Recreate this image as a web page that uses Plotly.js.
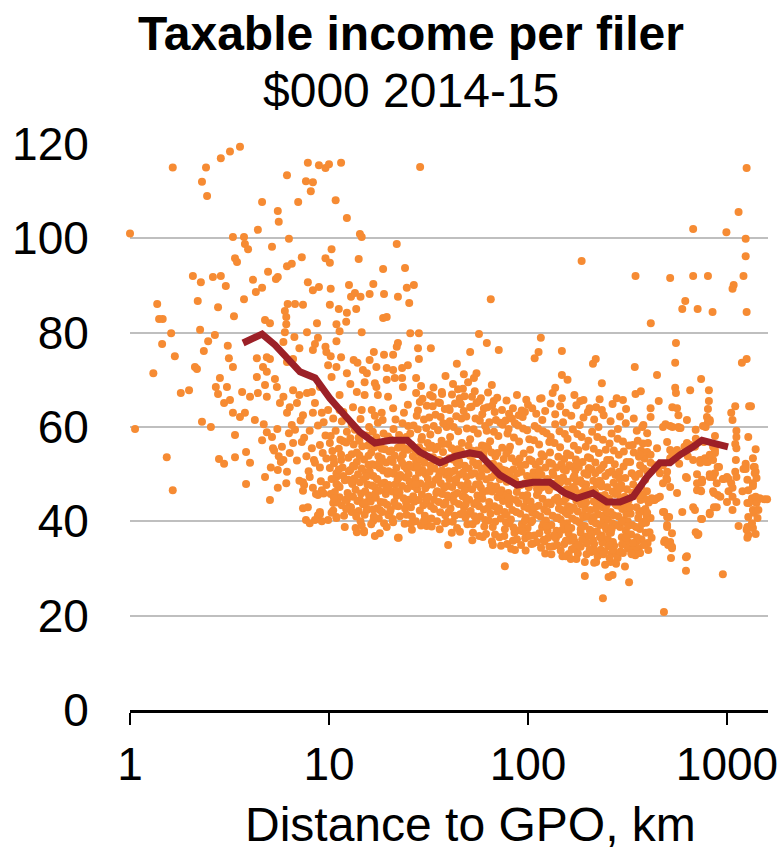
<!DOCTYPE html>
<html>
<head>
<meta charset="utf-8">
<script src="https://cdn.plot.ly/plotly-3.0.1.min.js"></script>
<style>html,body{margin:0;padding:0;background:#fff;}#chart{width:784px;height:852px;}</style>
</head>
<body>
<div id="chart"></div>
<script>
// Distance to GPO (km), taxable income per filer ($000)
const pointsInner = [
[1.0,101],[1.64,115],[2.30,112],[2.41,115],[2.44,109],[2.86,117],[3.18,118.4],[3.57,119.4],[3.29,100.3],[3.74,100.3],[3.78,98.8],[3.92,97.7],[4.39,101.8],[4.61,107.7],[3.37,95.8],[3.45,95.0],[2.07,92.0],[2.27,90.7],[2.61,91.8],[2.86,92.0],[3.03,89.9],[2.19,86.7],[2.77,85.4],[3.74,87.1],[1.37,86.1],[1.40,82.9],[1.46,82.9],[1.61,79.9],[1.45,77.6],[1.68,75.0],[2.25,80.6],[2.47,78.2],[2.35,76.1],[2.67,79.5],[3.33,83.5],[3.10,77.2],[3.14,74.6],[3.29,72.7],[2.12,72.7],[2.17,72.3],[1.31,71.4],[1.80,67.2],[1.98,67.8],[2.83,70.4],[2.70,68.5],[3.07,68.5],[2.77,67.0],[3.66,67.4],[4.01,66.4],[2.97,65.1],[3.18,65.7],[3.29,63.0],[3.78,63.0],[4.39,67.2],[4.34,70.6],[4.77,68.9],[4.87,66.4],[5.47,68.5],[5.35,70.2],[4.34,74.6],[4.87,74.8],[5.05,74.4],[4.66,72.7],[4.87,71.7],[4.77,82.7],[5.05,82.0],[4.15,91.2],[4.29,88.6],[4.61,89.5],[4.94,92.9],[5.41,91.4],[5.53,91.8],[5.17,98.2],[6.15,113.4],[7.0,107.7],[5.53,105.8],[5.59,103.5],[6.29,99.9],[7.3,96.0],[6.15,94.1],[6.5,94.6],[7.83,116.0],[8.9,115.5],[9.6,114.9],[7.66,112.1],[8.3,111.9],[8.1,110.0],[9.6,95.8],[7.83,90.7],[8.3,89.0],[8.9,89.7],[7.4,85.9],[6.75,86.1],[6.2,86.1],[6.0,84.6],[8.7,82.0],[6.1,83.3],[6.1,81.8],[7.75,80.1],[6.0,80.1],[6.7,79.1],[8.8,78.9],[8.5,77.6],[5.9,78.0],[7.1,76.7],[8.3,76.3],[9.6,77.0],[9.7,75.9],[6.6,74.4],[6.15,73.8],[9.9,73.1],[6.6,67.8],[7.1,66.8],[7.75,67.2],[8.2,67.4],[9.0,68.5],[5.9,66.4],[5.67,65.1],[6.35,64.2],[6.9,65.1],[8.5,65.1],[9.2,63.0],[9.9,63.6],[6.15,63.0],[7.4,62.5],[8.3,63.0],
[1.06,59.6],[1.53,53.6],[1.64,46.6],[2.30,61.1],[2.55,60.0],[2.80,53.2],[2.97,52.2],[3.37,58.3],[3.37,53.6],[3.83,54.7],[4.01,52.4],[3.83,47.9],[4.77,49.4],[5.05,44.5],[5.53,47.1],[3.57,62.1],[4.24,61.5],[4.61,57.2],[4.87,58.9],[5.17,57.9],[5.23,55.5],[5.8,55.8],[5.59,53.8],[5.73,52.6],[5.53,50.9],[6.15,50.5],[6.1,48.1],[6.35,54.5],[6.29,58.7],[6.75,59.4],[7.3,56.8],[7.5,57.7],[7.4,48.3],[7.5,47.7],[8.0,49.4],[8.3,47.1],[8.8,45.6],[9.2,46.6],[7.4,42.8],[7.83,43.0],[9.0,42.0],[8.8,41.3],[7.66,40.3],[8.0,39.6],[9.9,40.3],[8.2,55.5],[9.0,56.2],[9.3,54.5],[8.5,52.4],[9.7,47.7],
[5.9,53.0],[7.1,48.6],[7.4,46.5],[7.9,50.6],[8.4,53.0],[9.0,51.4],[9.1,48.5],[8.6,45.8],[9.4,45.9],[9.0,41.5],[8.5,40.3],[9.2,40.0],[6.9,52.9],[7.7,53.8],[5.3,55.0],[5.1,51.4],[6.6,56.6],[9.6,58.2],[9.7,53.3],[8.0,59.2],[7.2,61.4],[6.5,60.4],[5.5,59.6],[4.7,60.6],[9.4,61.0],[8.8,60.3]
];

const pointsMiddle = [
[10.0,115.7],[11.5,116.0],[10.8,108.1],[12.3,104.3],[14.3,100.9],[14.6,100.3],[10.3,97.7],[10.1,94.8],[14.1,95.6],[21.9,98.8],[18.7,93.5],[10.2,89.3],[12.6,90.1],[16.7,90.3],[12.9,87.6],[13.5,88.4],[14.4,87.6],[16.0,88.2],[18.9,88.2],[22.2,87.6],[10.1,85.9],[11.2,85.0],[13.7,85.0],[12.3,84.2],[18.7,83.1],[19.5,83.3],[10.9,81.8],[12.2,82.3],[11.3,80.3],[14.6,80.1],[10.9,78.2],[10.2,75.0],[11.5,74.8],[13.3,74.2],[13.9,73.6],[16.8,75.9],[18.9,75.3],[21.0,75.3],[21.9,77.0],[22.2,77.8],[10.9,72.7],[14.8,72.1],[16.0,74.2],[15.5,71.4],[17.3,72.7],[19.5,72.5],[21.0,72.1],[12.3,71.4],[10.3,70.6],[12.8,69.1],[15.1,69.5],[17.0,69.3],[17.3,68.5],[19.5,70.0],[21.4,70.4],[13.8,67.4],[15.1,66.8],[11.3,66.8],[17.6,66.8],[19.8,66.4],[11.8,63.2],[13.2,64.2],[14.6,63.6],[16.4,63.6],[18.4,63.0],[21.0,64.0],
[10.1,56.6],[10.5,53.4],[10.1,51.3],[10.9,49.4],[11.3,47.3],[12.5,48.8],[13.2,45.2],[14.3,44.5],[15.5,42.4],[18.0,42.4],[20.2,41.8],[10.9,40.7],[10.5,43.9],[12.3,44.5],[13.0,42.0],[13.8,37.7],[15.0,37.7],[16.7,40.1],[17.0,36.9],[18.0,37.5],[22.2,36.5],
[28.7,115.1],[24.1,93.7],[24.6,89.5],[26.7,90.1],[25.3,86.3],[25.6,79.9],[28.3,79.9],[56.7,79.7],[65.0,87.1],[62.1,77.8],[71.3,76.3],[32.5,76.7],[28.0,76.7],[28.3,74.4],[51.2,75.9],[43.9,73.4],[47.6,71.2],[55.1,71.4],[53.5,70.4],[42.0,69.1],[47.1,68.1],[36.9,67.4],[33.2,66.4],[65.8,68.9],[67.3,65.5],[52.3,66.4],[58.0,66.1],[27.4,70.4],[29.0,68.7],[27.4,67.2],[32.2,66.8],[23.3,70.4],[23.5,68.5],[24.9,73.1],[23.3,72.5],[24.9,64.7],[28.6,65.3],[36.1,65.1],[40.4,63.6],[45.4,66.1],[51.2,64.2],[55.1,65.1],[62.6,64.2],[68.0,63.2],[80.3,62.8],[89.9,62.5],[96.5,63.2],
[76.5,30.5],[86,33.9],[39.7,35.0],[59.3,36.7],[22.4,36.5],[26.1,38.2],[31.0,39.0],
[29.5,66.0],[31.0,64.5],[33.5,68.4],[35.5,65.2],[37.0,67.0],[38.5,70.8],[40.0,64.0],[41.5,66.9],[43.0,65.0],[44.5,68.0],[46.0,64.8],[48.0,66.5],[50.0,69.5],[52.0,64.3],[54.0,67.6],[57.0,65.5],[60.0,63.9],[63.0,67.3],[66.0,64.5],[70.0,66.2],[74.0,63.6],[78.0,65.6],[84.0,64.0],[88.0,66.8],[93.0,63.5],[98.0,65.8]
];

const pointsMiddleCore = [
[10.2,58.1],[10.4,54.9],[10.6,52.3],[10.9,50.2],[11.1,47.6],[11.3,45.1],[11.6,43.4],[11.9,41.2],[12.2,56.7],[12.5,53.5],[10.3,49.0],[10.7,46.2],[11.0,44.0],[11.4,57.3],[11.7,51.4],[12.0,48.7],[12.4,46.0],[12.6,43.1],[10.5,42.3],[10.8,59.2],[11.2,55.4],[11.5,53.0],[11.8,49.6],[12.1,44.6],[12.3,59.0],[10.2,45.8],[10.9,40.9],[11.6,61.2],[12.6,50.6],[11.3,63.6],[10.5,61.8],[12.0,38.8],
[12.8,57.6],[13.0,54.2],[13.2,51.8],[13.4,49.1],[13.6,46.7],[13.9,44.3],[14.1,42.2],[14.4,40.0],[14.7,55.9],[15.0,53.1],[15.3,50.4],[15.6,47.8],[15.9,45.5],[12.9,43.0],[13.1,47.9],[13.3,56.3],[13.5,59.4],[13.8,52.6],[14.0,50.0],[14.3,48.3],[14.5,45.9],[14.8,43.6],[15.1,41.4],[15.4,58.2],[15.7,56.1],[15.8,52.0],[13.7,41.0],[14.2,54.0],[14.6,51.2],[14.9,48.9],[15.2,46.4],[15.5,44.1],[13.0,60.5],[14.4,61.7],[15.9,60.0],[13.6,38.6],[15.0,38.0],[14.1,57.8],[12.8,50.9],[15.6,42.6],
[16.1,57.2],[16.3,54.6],[16.5,52.1],[16.7,49.6],[17.0,47.3],[17.2,45.0],[17.5,42.8],[17.8,40.6],[18.1,56.0],[18.4,53.4],[18.7,50.8],[19.0,48.2],[19.3,45.8],[19.6,43.5],[19.9,41.3],[16.2,44.2],[16.4,47.6],[16.6,59.0],[16.9,55.7],[17.1,51.9],[17.4,49.0],[17.7,53.8],[17.9,46.5],[18.2,44.1],[18.5,42.0],[18.8,58.6],[19.1,55.3],[19.4,52.5],[19.7,50.1],[20.0,47.7],[16.8,41.0],[17.3,57.8],[17.6,60.9],[18.3,48.0],[18.9,39.6],[19.5,38.8],[20.1,54.8],[16.0,50.6],[17.0,62.4],[18.6,61.5],[19.8,58.0],[18.0,51.3],
[20.3,57.4],[20.6,55.0],[20.9,52.6],[21.2,50.1],[21.5,47.8],[21.9,45.4],[22.3,43.2],[22.7,41.1],[23.1,56.5],[23.5,54.1],[23.9,51.7],[24.3,49.3],[24.7,46.9],[25.1,44.6],[20.4,42.4],[20.8,46.3],[21.1,59.6],[21.4,53.9],[21.8,51.3],[22.1,48.8],[22.5,58.3],[22.9,53.2],[23.3,47.5],[23.7,44.9],[24.1,42.7],[24.5,57.9],[24.9,55.2],[25.3,52.0],[20.5,50.3],[21.0,39.8],[21.6,61.6],[22.2,55.6],[22.8,49.8],[23.4,60.8],[24.0,39.5],[24.6,51.1],[25.4,48.4],[25.0,60.2],[23.8,63.0],[21.3,44.1],[22.6,46.1],[24.4,44.0],
[25.6,58.6],[26.0,56.2],[26.4,53.8],[26.8,51.4],[27.2,49.1],[27.7,46.8],[28.1,44.5],[28.6,42.3],[29.1,57.3],[29.6,54.9],[30.1,52.4],[30.6,50.0],[31.1,47.6],[31.6,45.2],[25.8,43.0],[26.2,47.5],[26.6,60.3],[27.0,55.2],[27.4,52.8],[27.9,59.5],[28.3,50.3],[28.8,48.0],[29.3,45.7],[29.8,43.4],[30.3,41.2],[30.8,59.8],[31.3,56.6],[31.8,53.6],[26.1,41.0],[26.9,44.2],[27.6,62.4],[28.4,55.7],[28.9,53.1],[29.5,50.9],[30.0,61.6],[30.5,47.0],[31.0,43.9],[31.5,40.4],[32.0,50.5],[25.7,51.6],[27.3,40.0],[28.0,63.5],[29.0,39.1],[31.9,62.0],
[32.3,58.4],[32.8,56.0],[33.3,53.6],[33.9,51.2],[34.4,48.8],[35.0,46.4],[35.6,44.1],[36.2,41.9],[36.8,57.1],[37.4,54.7],[38.0,52.3],[38.7,49.9],[39.4,47.5],[40.1,45.1],[32.5,43.2],[33.0,47.8],[33.6,60.2],[34.1,55.3],[34.7,52.9],[35.3,59.3],[35.9,50.4],[36.5,48.1],[37.1,45.8],[37.7,43.5],[38.4,41.3],[39.0,60.0],[39.7,56.4],[40.3,53.4],[32.7,40.6],[33.7,44.6],[34.3,62.6],[35.2,55.8],[35.8,53.0],[36.4,62.1],[37.0,50.8],[37.9,47.1],[38.5,44.0],[39.2,39.9],[39.9,50.6],[32.4,51.9],[34.9,40.0],[36.0,38.3],[38.2,63.8],[40.0,42.0],[33.2,64.4],[37.5,60.8],
[40.6,57.9],[41.3,55.5],[42.0,53.1],[42.7,50.7],[43.4,48.3],[44.2,46.0],[44.9,43.7],[45.7,41.5],[46.5,56.6],[47.3,54.2],[48.1,51.8],[48.9,49.4],[49.8,47.0],[50.6,44.6],[40.8,42.7],[41.6,47.3],[42.3,60.0],[43.0,54.8],[43.8,52.4],[44.6,59.1],[45.3,49.9],[46.1,47.6],[46.9,45.3],[47.7,43.0],[48.5,40.8],[49.3,59.7],[50.2,56.0],[41.0,50.4],[41.9,39.9],[42.5,44.2],[43.6,62.3],[44.4,55.3],[45.1,52.7],[46.3,61.8],[47.1,50.3],[48.0,46.6],[48.7,43.7],[49.6,39.4],[50.4,51.2],[42.9,41.2],[45.5,37.8],[47.5,63.4],[49.0,62.2],[40.5,61.2],[44.0,38.6],[50.8,41.6],
[51.2,57.4],[52.1,55.0],[53.0,52.6],[53.9,50.2],[54.8,47.8],[55.7,45.5],[56.7,43.2],[57.7,41.0],[58.7,56.1],[59.7,53.7],[60.7,51.3],[61.7,48.9],[62.8,46.5],[63.8,44.1],[51.5,42.2],[52.4,46.8],[53.3,59.5],[54.2,54.3],[55.1,51.9],[56.0,58.6],[57.0,49.4],[58.0,47.1],[59.0,44.8],[60.0,42.5],[61.0,40.3],[62.0,59.2],[63.0,55.5],[51.8,49.9],[52.7,39.4],[53.6,43.7],[54.5,61.8],[55.4,55.0],[56.3,52.2],[57.3,61.3],[58.3,49.8],[59.3,46.1],[60.3,38.9],[61.3,55.9],[62.3,51.0],[63.5,40.2],[52.9,37.6],[56.9,36.9],[58.9,62.7],[60.9,60.2],[63.9,61.0],[55.0,40.1],
[64.5,57.0],[65.6,54.6],[66.8,52.2],[68.0,49.8],[69.2,47.4],[70.4,45.1],[71.6,42.8],[72.9,40.6],[74.2,55.6],[75.5,53.2],[76.8,50.8],[78.2,48.4],[79.6,46.0],[80.4,43.6],[64.8,41.6],[66.1,46.3],[67.4,59.0],[68.6,53.8],[69.8,51.4],[71.0,58.1],[72.3,48.9],[73.6,46.6],[74.9,44.3],[76.2,42.0],[77.5,39.8],[78.9,58.6],[80.0,55.0],[65.2,49.3],[66.5,38.8],[67.8,43.2],[69.0,61.5],[70.2,54.5],[71.3,51.7],[72.6,60.9],[73.9,49.2],[75.2,45.6],[76.5,38.3],[77.8,54.3],[79.2,50.5],[80.6,39.6],[68.3,37.2],[71.9,36.6],[74.6,60.5],[77.2,61.4],[79.9,59.6],[65.9,35.7],[73.2,34.8],[78.6,35.2],
[81.2,55.8],[82.8,53.4],[84.5,51.0],[86.2,48.6],[87.9,46.2],[89.6,43.9],[91.4,41.6],[93.2,39.4],[95.1,54.4],[97.0,52.0],[98.9,49.6],[100.9,47.2],[81.6,44.8],[83.3,42.4],[85.0,57.8],[86.7,52.6],[88.4,50.2],[90.2,56.9],[92.0,47.7],[93.8,45.4],[95.7,43.1],[97.6,40.8],[99.5,38.6],[101.5,57.4],[82.1,40.4],[83.8,49.1],[85.5,37.6],[87.3,42.0],[89.1,60.3],[90.8,53.3],[92.6,50.5],[94.5,59.7],[96.3,48.0],[98.2,44.4],[100.1,37.1],[101.8,53.1],[84.0,35.9],[88.0,36.2],[92.3,35.0],[96.8,36.4],[100.5,42.7],[86.0,60.8],[94.0,62.1],[99.0,59.3],[81.0,50.0],[90.5,38.1],[97.3,33.8],[83.0,61.8]
];

const pointsMiddleFill = [
[10.3,41.8],[10.6,44.9],[10.9,47.9],[11.2,51.0],[11.5,54.1],[11.8,57.0],[12.2,42.6],[12.6,45.4],
[13.0,48.4],[13.4,51.6],[13.8,54.6],[14.2,57.1],[14.6,39.1],[15.0,43.8],[15.4,49.5],[15.8,53.9],
[16.3,39.4],[16.7,42.5],[17.1,45.9],[17.5,48.9],[17.9,52.4],[18.4,55.4],[18.9,44.0],[19.4,47.0],[19.9,50.6],[20.4,53.1],
[20.9,40.5],[21.5,43.3],[22.1,46.4],[22.7,49.4],[23.3,52.4],[23.9,55.5],[24.5,41.4],[25.1,50.0],
[25.8,39.5],[26.5,45.3],[27.2,47.9],[27.9,51.7],[28.6,54.4],[29.3,57.9],[30.0,40.1],[30.7,44.6],[31.4,49.0],[32.0,55.6],
[32.8,38.9],[33.7,42.6],[34.6,46.0],[35.5,49.4],[36.4,52.8],[37.3,56.4],[38.3,39.6],[39.3,45.5],[40.3,49.0],
[41.4,37.6],[42.5,45.6],[43.6,49.0],[44.8,51.9],[46.0,54.9],[47.2,41.8],[48.5,45.0],[49.8,48.0],[51.1,53.9],
[52.5,36.0],[53.9,41.1],[55.3,44.1],[56.8,47.9],[58.3,51.1],[59.9,54.6],[61.5,37.3],[63.1,42.9],[64.8,47.6],
[66.6,35.0],[68.4,39.9],[70.2,42.1],[72.1,46.2],[74.0,51.0],[76.0,36.9],[78.0,41.4],[80.1,45.0],
[82.3,34.2],[84.5,38.7],[86.8,44.5],[89.1,47.4],[91.5,51.8],[94.0,37.9],[96.5,40.2],[99.1,45.6]
];

const pointsOuterCore = [
[102.5,55.2],[104.5,52.8],[106.6,50.4],[108.7,48.0],[110.9,45.6],[113.1,43.3],[115.4,41.0],[117.7,38.8],[120.1,53.8],[122.5,51.4],[124.9,49.0],[127.4,46.6],[103.0,44.2],[105.1,41.8],[107.2,57.2],[109.3,52.0],[111.5,49.6],[113.7,56.3],[116.0,47.1],[118.3,44.8],[120.7,42.5],[123.1,40.2],[125.5,38.0],[127.9,56.8],[103.6,39.8],[105.7,48.5],[107.8,37.0],[110.0,41.4],[112.2,59.7],[114.4,52.7],[116.7,49.9],[119.0,59.1],[121.4,47.4],[123.8,43.8],[126.2,36.5],[128.0,52.5],[106.0,35.3],[111.0,35.6],[116.3,34.4],[121.0,35.8],[125.0,42.1],[108.0,60.2],[118.0,61.5],[124.0,58.7],[104.0,49.4],[114.0,37.5],[122.0,33.2],[112.8,46.4],[119.5,39.5],[126.8,44.0],
[129,54.6],[132,52.2],[134,49.8],[137,47.4],[140,45.0],[143,42.7],[146,40.4],[149,38.2],[152,53.2],[155,50.8],[158,48.4],[161,46.0],[130,43.6],[133,41.2],[136,56.6],[139,51.4],[142,49.0],[145,55.7],[148,46.5],[151,44.2],[154,41.9],[157,39.6],[160,37.4],[131,39.2],[135,47.9],[138,36.4],[141,40.8],[144,59.1],[147,52.1],[150,49.3],[153,58.5],[156,46.8],[159,43.2],[162,35.9],[134,34.7],[140,35.0],[146,33.8],[152,35.2],[158,41.5],[136,44.6],[143,37.2],[149,32.6],[155,44.9],[161,51.9],[130,57.9],[137,60.6],[150,61.0],[158,57.5],[133,50.4],[139,38.0],[145,48.2],[151,39.4],[157,54.4],[160,33.1],[142,53.7],[148,42.4],
[163,54.0],[166,51.6],[169,49.2],[172,46.8],[175,44.4],[178,42.1],[181,39.8],[184,37.6],[188,52.6],[192,50.2],[196,47.8],[200,45.4],[164,43.0],[167,40.6],[170,56.0],[173,50.8],[176,48.4],[179,55.1],[182,45.9],[185,43.6],[189,41.3],[193,39.0],[197,36.8],[201,57.1],[165,38.6],[168,47.3],[171,35.8],[174,40.2],[177,58.5],[180,51.5],[183,48.7],[186,57.9],[190,46.2],[194,42.6],[198,35.3],[202,51.3],[166,34.1],[172,34.4],[178,33.2],[184,34.6],[190,40.9],[196,44.0],[169,36.6],[175,32.0],[181,44.3],[187,36.1],[193,31.4],[199,41.0],[204,38.2],[168,59.5],[182,60.4],[195,55.8],[174,53.1],[188,48.0],[200,53.6],[170,42.9],[186,39.1],[197,33.0],
[205,53.4],[209,51.0],[213,48.6],[217,46.2],[221,43.8],[225,41.5],[230,39.2],[235,37.0],[240,52.0],[245,49.6],[250,47.2],[255,44.8],[206,42.4],[210,40.0],[214,55.4],[218,50.2],[222,47.8],[227,54.5],[232,45.3],[237,43.0],[242,40.7],[247,38.4],[252,36.2],[257,56.5],[207,38.0],[211,46.7],[215,35.2],[219,39.6],[223,57.9],[228,50.9],[233,48.1],[238,57.3],[243,45.6],[248,42.0],[253,34.7],[208,33.5],[216,33.8],[224,32.6],[232,34.0],[240,40.3],[248,43.4],[212,36.0],[220,31.4],[228,43.7],[236,35.5],[244,30.8],[252,40.4],[256,37.6],[210,59.0],[226,60.0],[246,55.2],[218,52.5],[234,47.4],[250,53.0],[214,44.2],[230,36.6],[242,33.6],[254,50.3],[222,37.9],[238,41.2],
[259,53.0],[264,50.6],[269,48.2],[274,45.8],[279,43.4],[284,41.1],[290,38.8],[296,36.6],[302,51.6],[308,49.2],[314,46.8],[320,44.4],[260,42.0],[265,39.6],[270,55.0],[275,49.8],[280,47.4],[286,54.1],[292,44.9],[298,42.6],[304,40.3],[310,38.0],[316,35.8],[322,56.1],[261,37.6],[266,46.3],[271,34.8],[276,39.2],[282,57.5],[288,50.5],[294,47.7],[300,56.9],[306,45.2],[312,41.6],[318,34.3],[262,33.1],[272,33.4],[282,32.2],[292,33.6],[302,39.9],[312,43.0],[267,35.6],[277,31.0],[287,43.3],[297,35.1],[307,30.4],[317,40.0],[263,58.6],[283,59.6],[303,54.8],[273,52.1],[293,47.0],[313,52.6],[321,37.2],
[326,52.6],[332,50.2],[338,47.8],[344,45.4],[351,43.0],[358,40.7],[365,38.4],[372,36.2],[380,51.2],[388,48.8],[396,46.4],[404,44.0],[328,41.6],[334,39.2],[340,54.6],[347,49.4],[354,47.0],[361,53.7],[368,44.5],[375,42.2],[383,39.9],[391,37.6],[399,35.4],[330,37.2],[336,45.9],[342,34.4],[349,38.8],[356,57.1],[363,50.1],[370,47.3],[378,56.5],[386,44.8],[394,41.2],[402,33.9],[332,33.0],[346,32.8],[360,34.2],[374,39.5],[389,42.6],[336,56.2],[352,59.2],[370,55.0],[385,53.3],[398,50.6]
];

const pointsOuterFill = [
[102,36.9],[105,40.1],[108,43.0],[111,46.9],[114,50.9],[117,54.2],[120,36.1],[124,39.0],[127,48.1],
[131,33.0],[135,37.0],[139,40.7],[143,44.1],[147,48.8],[151,51.0],[155,35.9],[159,38.6],[163,42.3],
[167,45.4],[171,49.6],[175,52.0],[179,35.0],[184,38.3],[189,43.9],[194,46.9],[199,49.9],[204,34.0],
[209,37.3],[214,40.9],[219,42.6],[224,45.4],[229,48.6],[234,51.3],[239,33.0],[245,38.9],[251,41.9],
[257,35.0],[263,38.3],[269,41.3],[275,43.7],[282,46.1],[289,49.1],[296,40.0],[303,43.8],[310,36.5],
[318,39.0],[326,43.0],[335,46.0],[344,49.7],[353,36.6],[362,41.8],[372,45.7],[382,35.0],[392,39.7]
];

const pointsOuter = [
[100,64.7],[116,78.9],[113,75.9],[108,74.6],[148,76.1],[186,95.2],[212,73.4],[219,74.4],[148,71.0],[158,70.0],[137,68.3],[133,67.2],[148,66.1],[117,66.1],[171,66.8],[183,65.5],[190,65.7],[235,69.3],[229,65.9],[204,64.0],[220,64.2],[235,63.6],[266,64.9],[279,66.1],[300,65.7],[311,63.8],[344,72.7],[347,67.0],[369,67.6],[414,82.0],[445,71.0],[454,65.5],[347,92.0],[518,91.6],[554,77.8],[549,73.6],[549,68.3],[554,67.2],[653,67.8],[741,70.2],[811,67.8],[811,65.5],[802,63.8],[596,85.0],[617,86.7],[712,85.0],[846,84.4],[676,102.0],[676,92.0],[802,92.0],[993,101.3],[1143,105.6],[1241,99.9],[1241,96.2],[1255,114.9],[1210,92.0],[1080,90.1],[1066,89.3],[1255,84.4],[1255,74.4],[1188,73.6],[1320,64.4],[1100,64.4],[1050,63.0],[570,62.5],[531,64.2],
[413,64.0],[413,62.1],[1292,64.4],[793,62.1],[802,61.1],[491,60.6],[518,60.2],[570,60.0],[584,59.8],[696,59.4],[758,60.2],[819,61.5],[781,60.0],[1115,59.2],[1115,57.9],[1279,57.9],[1100,56.4],[1393,55.3],[1108,53.0],[1241,52.2],[1364,51.5],[1241,51.1],[1378,50.2],[1100,50.5],[1407,49.2],[1266,48.8],[1115,49.4],[1018,49.0],[1050,48.1],[888,48.1],[962,49.0],[870,50.2],[819,50.0],[707,50.0],[749,48.8],[897,51.5],[851,53.0],[802,52.6],[870,54.5],[734,53.0],[635,53.8],[629,56.6],[622,55.5],[518,55.1],[575,52.2],[622,49.4],[707,48.1],[734,46.6],[851,46.4],[1018,46.4],[1196,46.4],[1350,48.1],[1540,44.7],[1438,44.7],[1335,44.9],[1266,43.9],[1407,43.9],[1350,42.4],[1279,40.9],[1364,41.8],[1423,40.7],[1266,38.8],[1350,38.6],[1279,37.1],[1143,39.0],[1115,44.1],[1066,42.4],[888,43.0],[819,41.8],[749,40.5],[712,37.1],[676,43.0],[690,42.4],[596,42.0],[561,46.0],[518,47.3],[500,48.8],[477,48.1],[460,50.2],[433,51.9],[454,51.5],[418,44.9],[433,44.5],[404,44.1],[483,42.0],[512,40.9],[500,39.2],[483,35.6],[518,35.4],[529,34.6],[629,32.6],[523,32.2],[622,29.5],[953,28.8],[322,27.1],[238,23.7],[266,28.6],[254,28.2],[260,31.4],[257,32.2],[362,33.3],[350,33.3],[300,33.3],[337,34.6],[350,35.6],[482,20.8],
[193,28.4],[155,32.6],[164,32.0],[215,31.2],[266,33.9],[330,33.3],[718,37.3],[696,37.7],[1266,36.5],[1393,37.3],[1255,38.2],[1335,39.6],[1438,42.4],[1590,44.7],[1460,44.9],[1393,45.2],[1292,43.9],[1279,46.6],[1350,47.5],[1393,50.5],[1378,51.5],[1210,51.1],[1241,51.7],[1350,53.4],[1115,55.5],[1066,47.1],[1066,45.2],[870,58.1],[912,51.5],[953,49.0],[1000,49.4],[851,49.4],[819,49.4],[897,45.6],[926,45.2],[819,41.5],[741,40.5],[860,43.0],[707,46.6],[741,46.4],[749,48.3],[860,46.0],[1000,44.1],[676,53.0],[734,52.4],[775,53.4],[787,52.6],[819,54.1],[766,56.8],[851,55.8],[870,55.1],[629,49.2],[500,40.9],[477,42.0],[500,38.8],[529,37.5],[488,36.0],[518,35.6],[506,35.0],[529,34.3],[622,32.4],[408,37.7],[418,36.5],[366,33.3],[350,34.6],[337,35.4],[413,40.7],[397,41.8],[425,44.5],[445,44.9],[460,45.2],[496,49.2],[500,50.5],[477,51.9],[518,53.4],[532,54.1],[561,55.1],[611,55.8],[653,56.2],[690,55.8],[697,57.5],[500,56.8],[445,55.5],[477,60.0],[532,60.0],[575,59.8],[380,60.4],[397,58.7],[401,56.6],[366,54.1],[397,54.7],[413,54.1],[413,52.4],[366,51.9],[561,64.0],[629,61.5],[819,61.1],[1066,61.5],[104,35.2],[128,34.6],
[105,64.0],[110,62.8],[115,66.0],[122,63.4],[130,65.0],[137,62.7],[145,64.4],[155,63.0],[165,62.4],[175,64.6],[190,62.0],[200,63.2],[215,61.6],[240,62.5],[260,61.2],[290,62.2],[310,60.8],[340,61.8],[375,60.0]
];

// Moving average line
const trendDist = [3.70,4.61,5.35,6.37,7.15,8.51,10.1,12.0,14.3,17.0,20.3,24.7,28.6,36.1,43.0,51.1,57.4,72.3,88.1,106,129,153,176,212,249,290,337,396,460,517,581,675,749,851,1012];
const trendIncome = [77.8,79.7,77.4,73.8,71.7,70.4,66.1,62.5,58.9,56.6,57.2,57.2,54.7,52.4,53.8,54.5,54.1,49.8,47.7,48.3,48.3,46.0,44.9,46.0,44.1,44.1,45.2,49.4,52.4,52.4,54.1,55.8,57.2,56.6,55.8];

const xTickVals = [1, 10, 100, 1000];
const xTickText = ['1', '10', '100', '1000'];
const yTickVals = [0, 20, 40, 60, 80, 100, 120];

const allPoints = [].concat(pointsInner, pointsMiddle, pointsMiddleCore, pointsMiddleFill, pointsOuterCore, pointsOuterFill, pointsOuter);

const FONT = 'Liberation Sans, Arial, Helvetica, sans-serif';

const traces = [
  {
    type: 'scatter', mode: 'markers',
    x: allPoints.map(p => p[0]), y: allPoints.map(p => p[1]),
    marker: {color: '#F68B33', size: 8, line: {width: 0}},
    cliponaxis: false, hoverinfo: 'skip', showlegend: false
  },
  {
    type: 'scatter', mode: 'lines',
    x: trendDist, y: trendIncome,
    line: {color: '#9C2027', width: 7},
    cliponaxis: false, hoverinfo: 'skip', showlegend: false
  }
];

const layout = {
  width: 784, height: 852,
  margin: {l: 130, r: 16, t: 144, b: 142, pad: 0},
  paper_bgcolor: '#fff', plot_bgcolor: '#fff',
  font: {family: FONT, color: '#000'},
  showlegend: false,
  xaxis: {
    type: 'log', range: [0, 3.206], autorange: false,
    showgrid: false, zeroline: false,
    showline: true, linecolor: '#000', linewidth: 3,
    ticks: 'outside', ticklen: 12, tickwidth: 2, tickcolor: '#000',
    tickvals: xTickVals, ticktext: xTickText,
    tickfont: {family: FONT, size: 46, color: '#000'},
    automargin: false
  },
  yaxis: {
    range: [0, 120], autorange: false,
    tickvals: yTickVals,
    showgrid: true, gridcolor: '#BFBFBF', gridwidth: 2,
    zeroline: false, showline: false,
    ticks: 'outside', ticklen: 31, tickcolor: 'rgba(0,0,0,0)',
    tickfont: {family: FONT, size: 46, color: '#000'},
    automargin: false
  },
  annotations: [
    {text: '<b>Taxable income per filer</b>', xref: 'paper', yref: 'paper', x: 0.44, y: 1.196,
     xanchor: 'center', yanchor: 'middle', showarrow: false, font: {family: FONT, size: 48, color: '#000'}},
    {text: '$000 2014-15', xref: 'paper', yref: 'paper', x: 0.44, y: 1.095,
     xanchor: 'center', yanchor: 'middle', showarrow: false, font: {family: FONT, size: 48, color: '#000'}},
    {text: 'Distance to GPO, km', xref: 'paper', yref: 'paper', x: 0.533, y: -0.203,
     xanchor: 'center', yanchor: 'middle', showarrow: false, font: {family: FONT, size: 48, color: '#000'}}
  ]
};

Plotly.newPlot('chart', traces, layout, {staticPlot: true, displayModeBar: false});
</script>
</body>
</html>
